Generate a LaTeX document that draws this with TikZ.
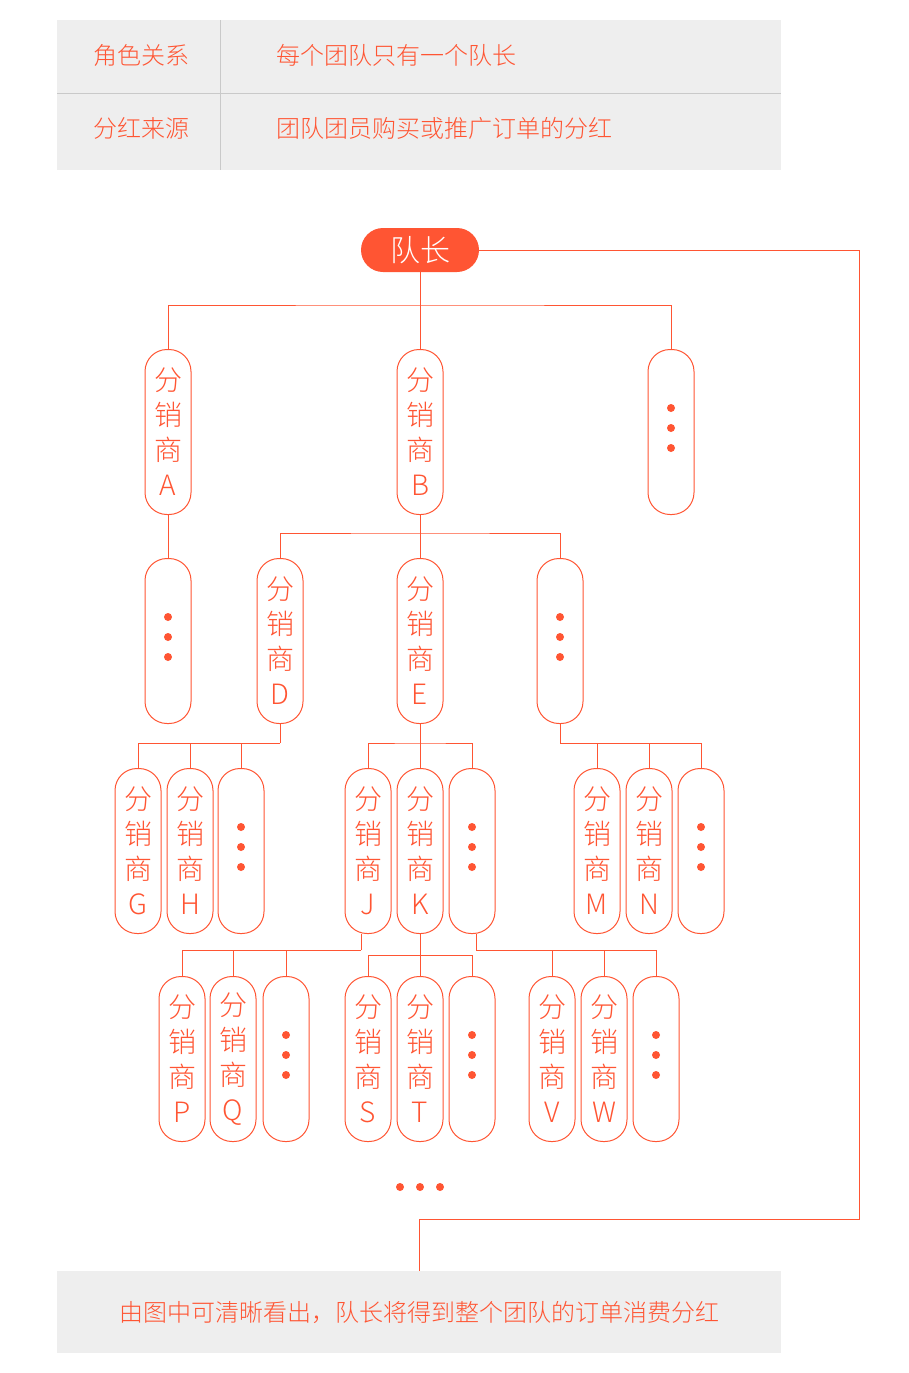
\documentclass[tikz,border=0pt]{standalone}
\usepackage{fontspec}
\setmainfont{Noto Sans CJK SC Light}
\usepackage{tikz}
\definecolor{teamred}{HTML}{FF5533}
\definecolor{panelgray}{HTML}{EEEEEE}
\definecolor{rulegray}{HTML}{C9C9C9}
\tikzset{
  panel/.style={fill=panelgray, draw=none},
  panelrule/.style={draw=rulegray, line width=1pt},
  paneltext/.style={text=teamred, font=\fontsize{24}{28}\selectfont, inner sep=0pt},
  leader/.style={fill=teamred, text=white, rounded corners=22pt, minimum width=118pt, minimum height=44pt, inner sep=0pt, font=\fontsize{30}{34}\selectfont},
  pill/.style={draw=teamred, line width=1pt, rounded corners=22pt, minimum width=46pt, minimum height=165pt, inner sep=0pt, align=center, text=teamred, font=\fontsize{28}{35}\selectfont},
  more/.style={pill, path picture={
      \fill[teamred] ([yshift=24pt]path picture bounding box.center) circle (4pt);
      \fill[teamred] ([yshift=4pt]path picture bounding box.center) circle (4pt);
      \fill[teamred] ([yshift=-16pt]path picture bounding box.center) circle (4pt);}},
  link/.style={draw=teamred, line width=1pt},
  dot/.style={fill=teamred, circle, inner sep=0pt, minimum size=8pt},
}

\begin{document}
\begin{tikzpicture}[x=1pt, y=-1pt]
\useasboundingbox (0,0) rectangle (909,1373);
\fill[panel] (57,20) rectangle (781,170);
\draw[panelrule] (57,93) -- (781,93);
\draw[panelrule] (220,20) -- (220,170);
\node[paneltext] (role) at (141,55) {角色关系};
\node[paneltext] (source) at (141,128) {分红来源};
\node[paneltext, anchor=west] (roletext) at (276,55) {每个团队只有一个队长};
\node[paneltext, anchor=west] (sourcetext) at (276,128) {团队团员购买或推广订单的分红};

\node[leader] (lead) at (420,250) {队长};

\node[pill] (A) at (168,432) {分\\销\\商\\A};
\node[pill] (B) at (420,432) {分\\销\\商\\B};
\node[more] (etc0) at (671,432) {};

\node[more] (etcA) at (168,641) {};
\node[pill] (D) at (280,641) {分\\销\\商\\D};
\node[pill] (E) at (420,641) {分\\销\\商\\E};
\node[more] (etcB) at (560,641) {};

\node[pill] (G) at (138,851) {分\\销\\商\\G};
\node[pill] (H) at (190,851) {分\\销\\商\\H};
\node[more] (etcD) at (241,851) {};
\node[pill] (J) at (368,851) {分\\销\\商\\J};
\node[pill] (K) at (420,851) {分\\销\\商\\K};
\node[more] (etcE) at (472,851) {};
\node[pill] (M) at (597,851) {分\\销\\商\\M};
\node[pill] (N) at (649,851) {分\\销\\商\\N};
\node[more] (etcF) at (701,851) {};

\node[pill] (P) at (182,1059) {分\\销\\商\\P};
\node[pill] (Q) at (233,1059) {分\\销\\商\\Q};
\node[more] (etcJ) at (286,1059) {};
\node[pill] (S) at (368,1059) {分\\销\\商\\S};
\node[pill] (T) at (420,1059) {分\\销\\商\\T};
\node[more] (etcK) at (472,1059) {};
\node[pill] (V) at (552,1059) {分\\销\\商\\V};
\node[pill] (W) at (604,1059) {分\\销\\商\\W};
\node[more] (etcL) at (656,1059) {};

\node[dot] (tail1) at (400,1187) {};
\node[dot] (tail2) at (420,1187) {};
\node[dot] (tail3) at (440,1187) {};

\node[panel, minimum width=724pt, minimum height=82pt, paneltext] (note) at (419,1312) {由图中可清晰看出，队长将得到整个团队的订单消费分红};

\coordinate (bus1) at (420,305);
\coordinate (bus2) at (420,533);
\coordinate (bus3) at (280,743);
\coordinate (bus4) at (420,743);
\coordinate (bus5) at (560,743);
\coordinate (bus6) at (361,950);
\coordinate (bus7) at (420,955);
\coordinate (bus8) at (476,950);
\coordinate (turn) at (859,1219);

\draw[link] (lead.south) -- (bus1);
\draw[link] (A.north) |- (bus1) -| (etc0.north);
\draw[link] (bus1) -- (B.north);
\draw[link] (A.south) -- (etcA.north);
\draw[link] (B.south) -- (bus2);
\draw[link] (D.north) |- (bus2) -| (etcB.north);
\draw[link] (bus2) -- (E.north);
\draw[link] (D.south) -- (bus3);
\draw[link] (bus3) -| (G.north);
\draw[link] (bus3 -| H.north) -- (H.north);
\draw[link] (bus3 -| etcD.north) -- (etcD.north);
\draw[link] (E.south) -- (bus4);
\draw[link] (J.north) |- (bus4) -| (etcE.north);
\draw[link] (bus4) -- (K.north);
\draw[link] (etcB.south) -- (bus5);
\draw[link] (bus5) -| (etcF.north);
\draw[link] (bus5 -| M.north) -- (M.north);
\draw[link] (bus5 -| N.north) -- (N.north);
\draw[link] ([xshift=-7pt]J.south) -- (bus6);
\draw[link] (bus6) -| (P.north);
\draw[link] (bus6 -| Q.north) -- (Q.north);
\draw[link] (bus6 -| etcJ.north) -- (etcJ.north);
\draw[link] (K.south) -- (bus7);
\draw[link] (S.north) |- (bus7) -| (etcK.north);
\draw[link] (bus7) -- (T.north);
\draw[link] ([xshift=4pt]etcE.south) -- (bus8);
\draw[link] (bus8) -| (etcL.north);
\draw[link] (bus8 -| V.north) -- (V.north);
\draw[link] (bus8 -| W.north) -- (W.north);
\draw[link] (lead.east) -| (turn) -| (note.north);
\end{tikzpicture}
\end{document}
